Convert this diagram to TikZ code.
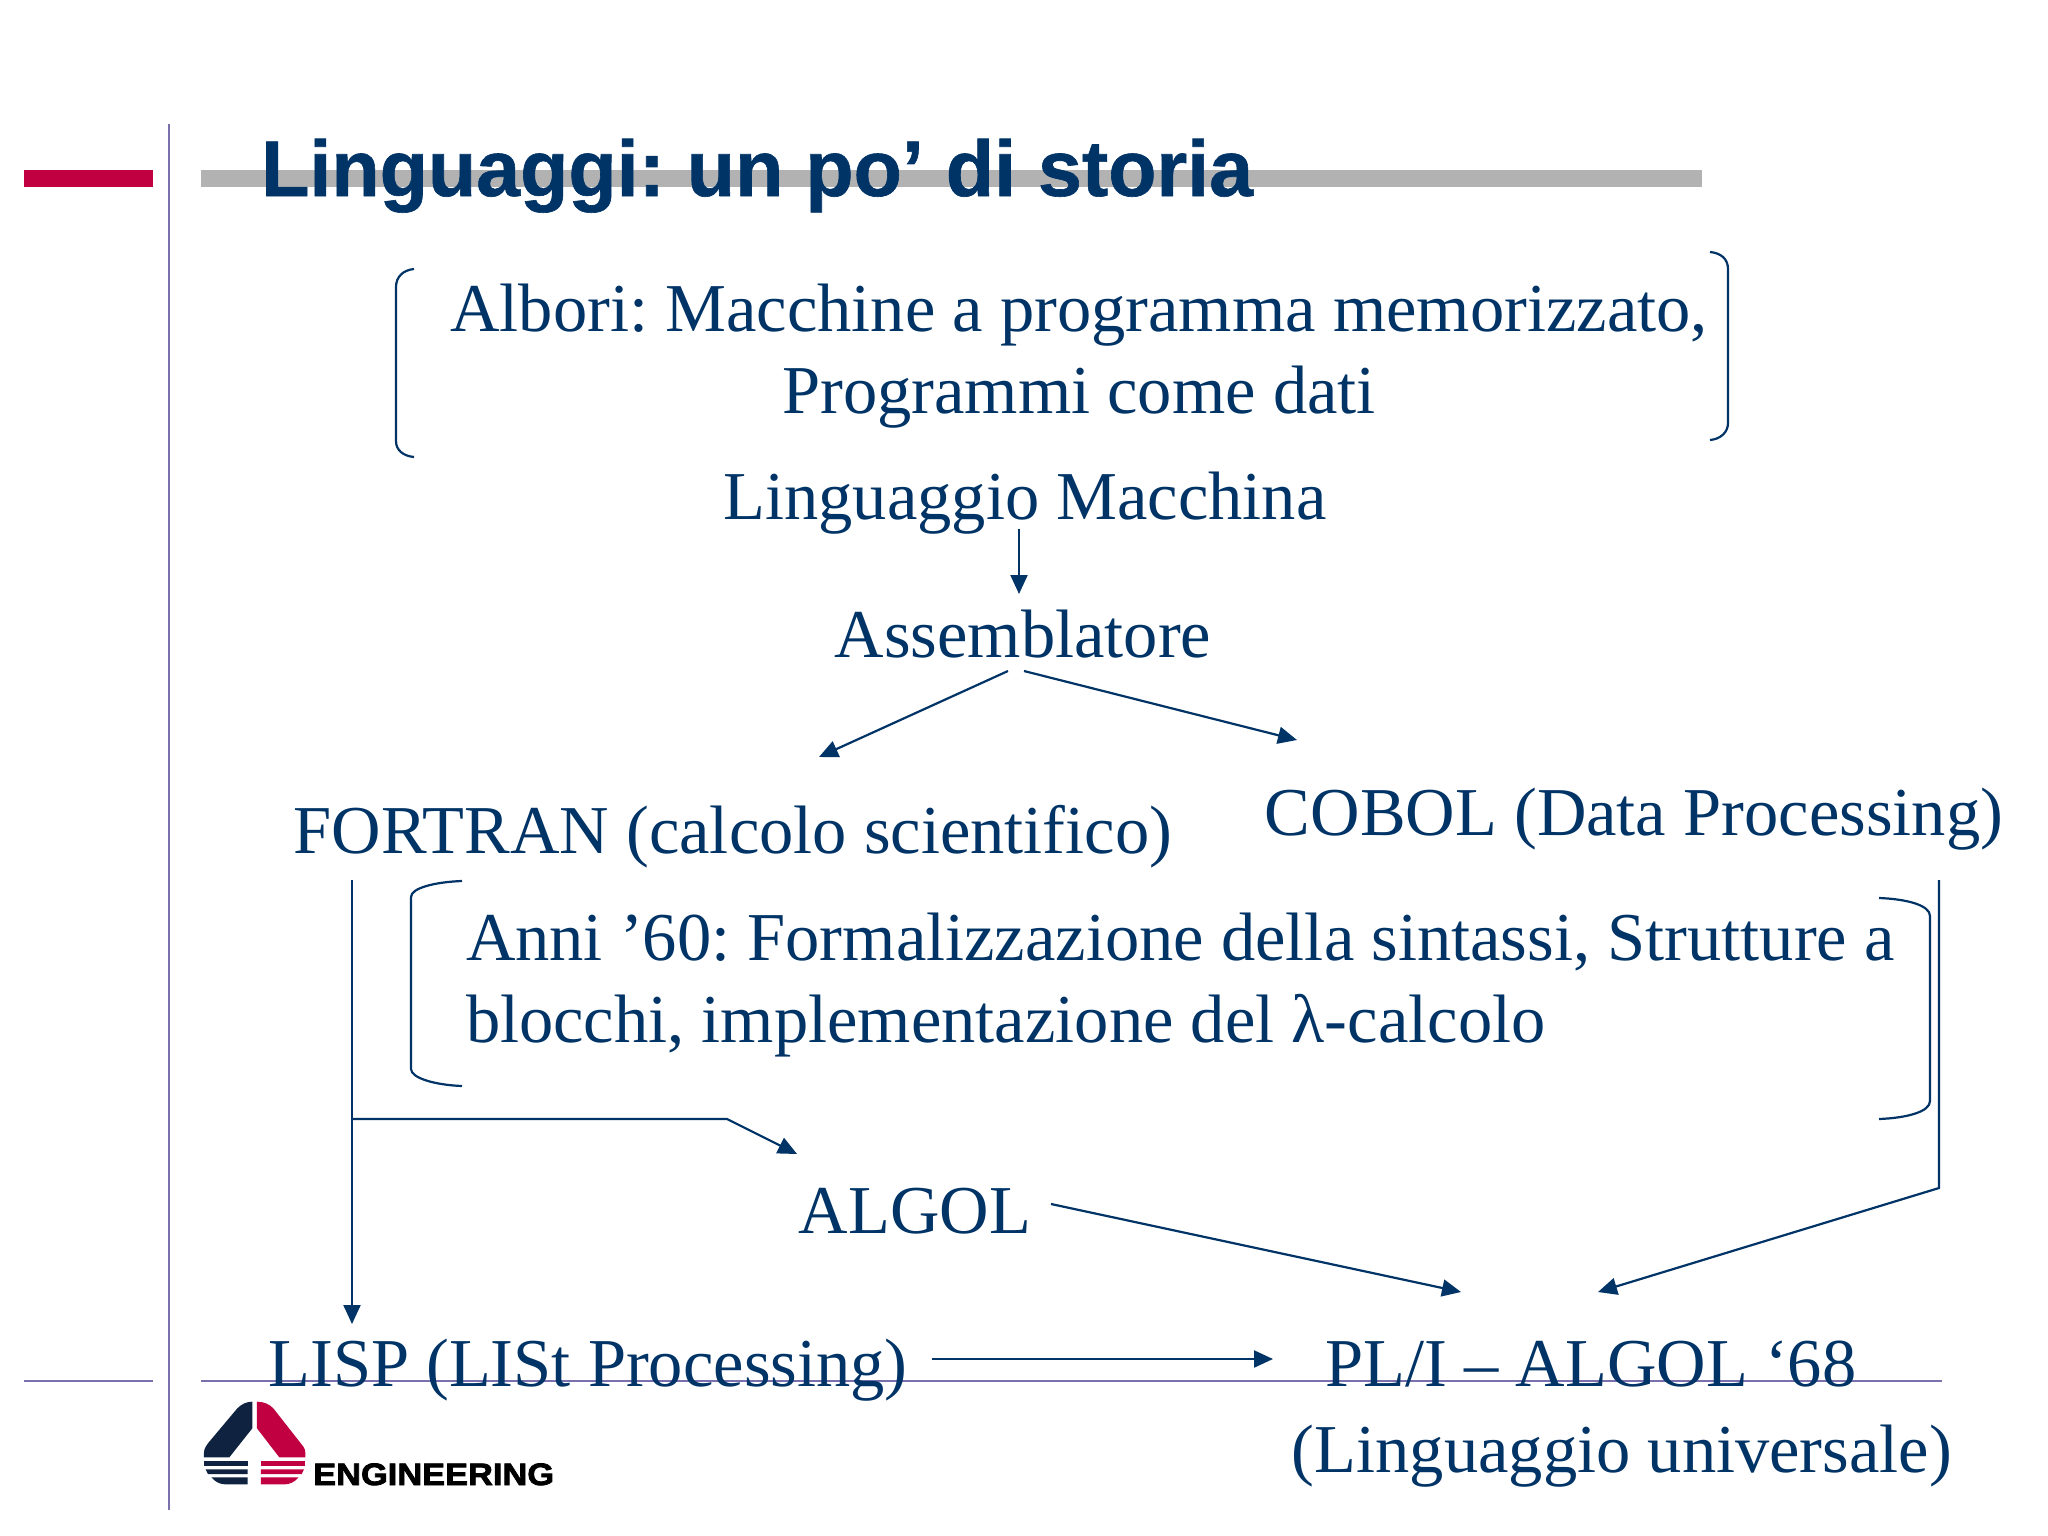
\documentclass[tikz,border=0pt]{standalone}
\usepackage{fontspec}
\usetikzlibrary{arrows.meta}
\setmainfont{Liberation Serif}
\newfontfamily\titlefont[FakeBold=0.8]{Liberation Sans Bold}
\newfontfamily\logofont[FakeStretch=1.11,FakeBold=2.5]{Liberation Sans Bold}
\definecolor{navy}{HTML}{003366}
\definecolor{crim}{HTML}{C00040}
\definecolor{graybar}{HTML}{B2B2B2}
\definecolor{purp}{HTML}{7A70AE}
\definecolor{logodark}{HTML}{0F2340}
\frenchspacing
\tikzset{
  x=1pt,y=-1pt,
  lbl/.style={anchor=base,inner sep=0pt,outer sep=0pt,text=navy,font=\fontsize{68.5}{82}\selectfont,text height=46pt,text depth=10pt},
  para/.style={inner sep=0pt,outer sep=0pt,text=navy,font=\fontsize{68.5}{82}\selectfont},
  conn/.style={draw=navy,line width=2.2pt,-{Triangle[length=19pt,width=17pt]}},
  brack/.style={draw=navy,line width=2.2pt},
  rule/.style={draw=purp,line width=2.5pt},
}
\begin{document}
\begin{tikzpicture}
\useasboundingbox (0,0) rectangle (2048,1536);
\fill[white] (0,0) rectangle (2048,1536);
% slide furniture
\fill[crim] (24,170) rectangle (153,187);
\fill[graybar] (201,170) rectangle (1702,187);
\draw[rule] (169,124) -- (169,1510);
\draw[rule] (24,1381) -- (153,1381);
\draw[rule] (201,1381) -- (1942,1381);
% title
\node[anchor=base west,inner sep=0pt,text=navy,font=\fontsize{79}{90}\selectfont\titlefont] (title) at (261,196) {Linguaggi: un po’ di storia};
% brackets
\draw[brack] (414,269) .. controls (403,270) and (396,277) .. (396,287) -- (396,441) .. controls (396,450) and (403,456) .. (414,457);
\draw[brack] (1710,252) .. controls (1721,253) and (1728,259) .. (1728,269) -- (1728,423) .. controls (1728,432) and (1721,439) .. (1710,440);
\draw[brack] (462,881) .. controls (435,882) and (411,888) .. (411,897) -- (411,1069) .. controls (411,1078) and (435,1085) .. (462,1086);
\draw[brack] (1879,898) .. controls (1906,899) and (1930,905) .. (1930,916) -- (1930,1101) .. controls (1930,1112) and (1906,1118) .. (1879,1119);
% texts
\node[para,anchor=base,align=center] (albori) at (1079,413) {Albori: Macchine a programma memorizzato,\\Programmi come dati};
\node[lbl] (ling) at (1025,519) {Linguaggio Macchina};
\node[lbl] (assem) at (1023,657) {Assemblatore};
\node[lbl] (fort) at (733,853) {FORTRAN (calcolo scientifico)};
\node[lbl] (cobol) at (1634,835) {COBOL (Data Processing)};
\node[para,anchor=base west,align=left] (anni) at (466,1042) {Anni ’60: Formalizzazione della sintassi, Strutture a\\blocchi, implementazione del λ-calcolo};
\node[lbl] (algol) at (915,1233) {ALGOL};
\node[lbl] (lisp) at (588,1386) {LISP (LISt Processing)};
\node[lbl] (pl) at (1591,1386) {PL/I – ALGOL ‘68};
\node[lbl] (univ) at (1622,1472) {(Linguaggio universale)};
% connectors (offsets keep the gaps the picture shows between text and line)
\draw[conn] ([xshift=-6pt,yshift=0pt]ling.south) -- ([xshift=-4pt,yshift=17pt]assem.north);
\draw[conn] ([xshift=-15pt,yshift=-4pt]assem.south) -- ([xshift=86pt,yshift=50pt]fort.north);
\draw[conn] ([xshift=1pt,yshift=-4pt]assem.south) -- ([xshift=-337pt,yshift=49pt]cobol.north);
\draw[conn] ([xshift=-381pt,yshift=-17pt]fort.south) -- ([xshift=-236pt,yshift=16pt]lisp.north);
\coordinate (junc) at (352,1119);
\coordinate (bend) at (727,1119);
\draw[conn] (junc) -- (bend) -- ([xshift=-118pt,yshift=33pt]algol.north);
\coordinate (cobend) at (1939,1188);
\draw[conn] ([xshift=305pt,yshift=-35pt]cobol.south) -- (cobend) -- ([xshift=7pt,yshift=48pt]pl.north);
\draw[conn] ([xshift=136pt,yshift=-17pt]algol.north) -- ([xshift=-130pt,yshift=48pt]pl.north);
\draw[conn] ([xshift=344pt,yshift=-19pt]lisp.north) -- ([xshift=-318pt,yshift=-19pt]pl.north);
% logo
\begin{scope}[shift={(150,1340)},x=0.3333pt,y=-0.3333pt]
\fill[logodark] (307,185) -- (307,265) -- (238,352) -- (162,352) -- (162,338) .. controls (162,325) and (170,315) .. (178,305) -- (262,205) .. controls (275,192) and (290,185) .. (307,185) -- cycle;
\fill[logodark] (162,362) rectangle (293,378);
\fill[logodark] (167,388) -- (293,388) -- (293,402) -- (174,402) -- cycle;
\fill[logodark] (184,412) -- (293,412) -- (293,433) -- (225,433) .. controls (210,433) and (195,425) .. (184,412) -- cycle;
\fill[crim] (321,185) -- (321,265) -- (388,352) -- (466,352) -- (466,338) .. controls (466,325) and (458,317) .. (450,307) -- (370,205) .. controls (358,192) and (340,185) .. (321,185) -- cycle;
\fill[crim] (333,362) rectangle (466,378);
\fill[crim] (333,388) -- (462,388) -- (455,402) -- (333,402) -- cycle;
\fill[crim] (333,412) -- (446,412) .. controls (435,425) and (420,433) .. (405,433) -- (333,433) -- cycle;
\end{scope}
\node[anchor=base west,inner sep=0pt,text=black,font=\fontsize{31}{34}\selectfont\logofont] (logo) at (313,1485) {ENGINEERING};
\end{tikzpicture}
\end{document}
